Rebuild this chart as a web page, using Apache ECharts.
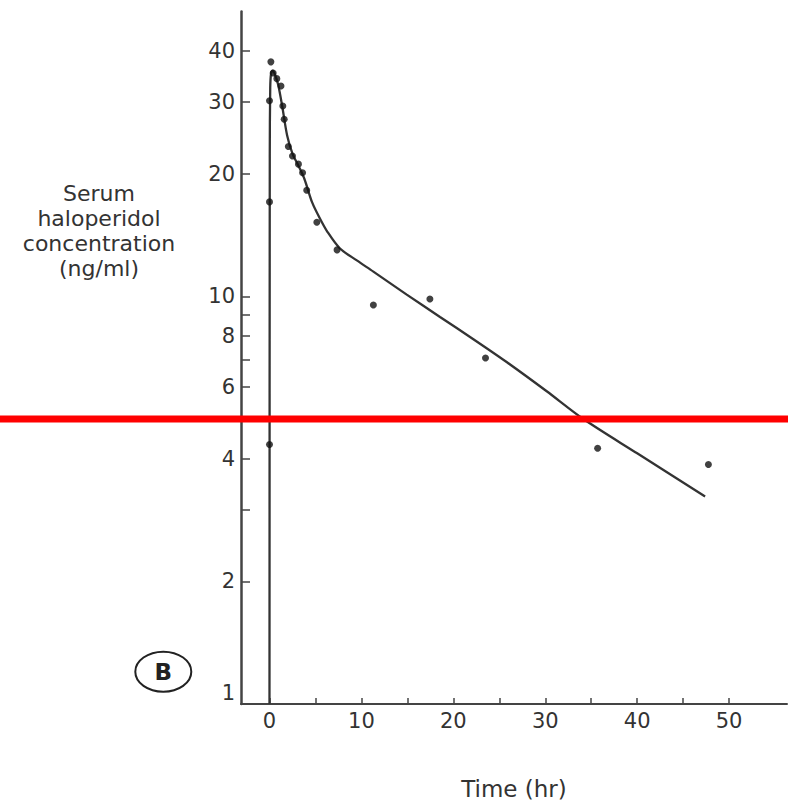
<!DOCTYPE html>
<html>
<head>
<meta charset="utf-8">
<script src="https://cdn.jsdelivr.net/npm/echarts@6/dist/echarts.min.js"></script>
<style>
  html, body { margin: 0; padding: 0; background: #fff; overflow: hidden; }
  #chart { width: 788px; height: 805px; }
</style>
</head>
<body>
<div id="chart"></div>
<script>
// ---- data ----
const sampleTime = [0, 0, 0, 0.15, 0.4, 0.8, 1.25, 1.45, 1.6, 2.05, 2.5, 3.15, 3.6, 4.05, 5.15, 7.35, 11.3, 17.45, 23.5, 35.7, 47.75];
const sampleConc = [4.33, 17.05, 30.2, 37.6, 35.3, 34.2, 32.8, 29.3, 27.2, 23.3, 22.1, 21.1, 20.1, 18.2, 15.2, 13.0, 9.52, 9.85, 7.06, 4.24, 3.87];

const curveTime = [0, 0.03, 0.08, 0.18, 0.35, 0.6, 0.95, 1.38, 1.92, 2.5, 3.2, 3.8, 4.64, 5.5, 6.3, 7.67, 9.5, 11.3, 14.93, 18.55, 22.18, 25.8, 30.16, 34.15, 40, 47.39];
const curveConc = [1, 22, 32.5, 35.3, 35.8, 35.0, 33.0, 29.3, 24.8, 22.4, 20.8, 19.4, 17.0, 15.5, 14.4, 13.1, 12.25, 11.5, 10.1, 8.9, 7.85, 6.9, 5.85, 5.0, 4.12, 3.23];

const yLabelValues = [1, 2, 4, 6, 8, 10, 20, 30, 40];
const yTickValues = [2, 3, 4, 6, 7, 8, 9, 10, 20, 30, 40];
const xLabelValues = [0, 10, 20, 30, 40, 50];
const xTickValues = [0, 5, 10, 15, 20, 25, 30, 35, 40, 45, 50];
const yRange = [1, 50];
const xRange = [-3.1, 56.3];
const referenceLevel = 5;

const yTitle = 'Serum\nhaloperidol\nconcentration\n(ng/ml)';
const xTitle = 'Time (hr)';
const panelLetter = 'B';

// ---- chart ----
const lg = v => Math.log10(v);
const FONT = '"DejaVu Sans", "Liberation Sans", Arial, sans-serif';
const axisColor = '#444';

const chart = echarts.init(document.getElementById('chart'), null, { renderer: 'svg', width: 788, height: 805 });

const option = {
  backgroundColor: '#ffffff',
  animation: false,
  grid: { left: 241, top: 11.4, width: 546, height: 696.6, containLabel: false },
  xAxis: {
    type: 'value',
    min: xRange[0],
    max: xRange[1],
    name: xTitle,
    nameLocation: 'middle',
    nameGap: 73,
    nameTextStyle: { fontFamily: FONT, fontSize: 23, color: '#333' },
    axisLine: { show: true, onZero: false, lineStyle: { color: axisColor, width: 2 } },
    axisTick: { show: true, inside: true, length: 6, customValues: xTickValues, lineStyle: { color: axisColor, width: 1.5 } },
    axisLabel: { customValues: xLabelValues, margin: 6, fontFamily: FONT, fontSize: 21, color: '#333' },
    splitLine: { show: false }
  },
  yAxis: {
    type: 'value',
    min: lg(yRange[0]),
    max: lg(yRange[1]),
    axisLine: { show: true, onZero: false, lineStyle: { color: axisColor, width: 2.5 } },
    axisTick: { show: true, inside: true, length: 9, customValues: yTickValues.map(lg), lineStyle: { color: axisColor, width: 1.5 } },
    axisLabel: {
      customValues: yLabelValues.map(lg),
      margin: 6,
      fontFamily: FONT,
      fontSize: 21,
      color: '#333',
      formatter: v => {
        const n = Math.round(Math.pow(10, v));
        return n === 1 ? '{one|1}' : String(n);
      },
      rich: { one: { fontFamily: FONT, fontSize: 21, color: '#333', padding: [0, 0, 22, 0] } }
    },
    splitLine: { show: false }
  },
  series: [
    {
      type: 'line',
      data: curveTime.map((t, i) => [t, lg(curveConc[i])]),
      showSymbol: false,
      smooth: 0.3,
      lineStyle: { color: '#333', width: 2.3 },
      z: 2
    },
    {
      type: 'scatter',
      data: sampleTime.map((t, i) => [t, lg(sampleConc[i])]),
      symbol: 'circle',
      symbolSize: 7,
      itemStyle: { color: '#111' },
      z: 3
    }
  ],
  graphic: [
    {
      type: 'text',
      x: 99, y: 230.5,
      style: {
        text: yTitle,
        font: '22px ' + FONT,
        fontSize: 22, fontFamily: FONT,
        fill: '#333',
        align: 'center', textAlign: 'center',
        verticalAlign: 'middle', textVerticalAlign: 'middle',
        lineHeight: 25
      }
    },
    {
      type: 'ellipse',
      shape: { cx: 163.3, cy: 671.7, rx: 28, ry: 20 },
      style: { fill: 'none', stroke: '#222', lineWidth: 2 }
    },
    {
      type: 'text',
      x: 163.3, y: 672,
      style: {
        text: panelLetter,
        font: 'bold 23px ' + FONT,
        fontSize: 23, fontWeight: 'bold', fontFamily: FONT,
        fill: '#222',
        align: 'center', textAlign: 'center',
        verticalAlign: 'middle', textVerticalAlign: 'middle'
      }
    }
  ]
};

chart.setOption(option);

// red reference line at the 5 ng/ml level, spanning the full picture width
const yRed = chart.convertToPixel({ yAxisIndex: 0 }, lg(referenceLevel));
chart.setOption({
  graphic: [
    {
      type: 'rect',
      id: 'redline',
      z: 100,
      shape: { x: 0, y: yRed - 3.5, width: 788, height: 7 },
      style: { fill: '#ff0000' }
    }
  ]
});
</script>
</body>
</html>
